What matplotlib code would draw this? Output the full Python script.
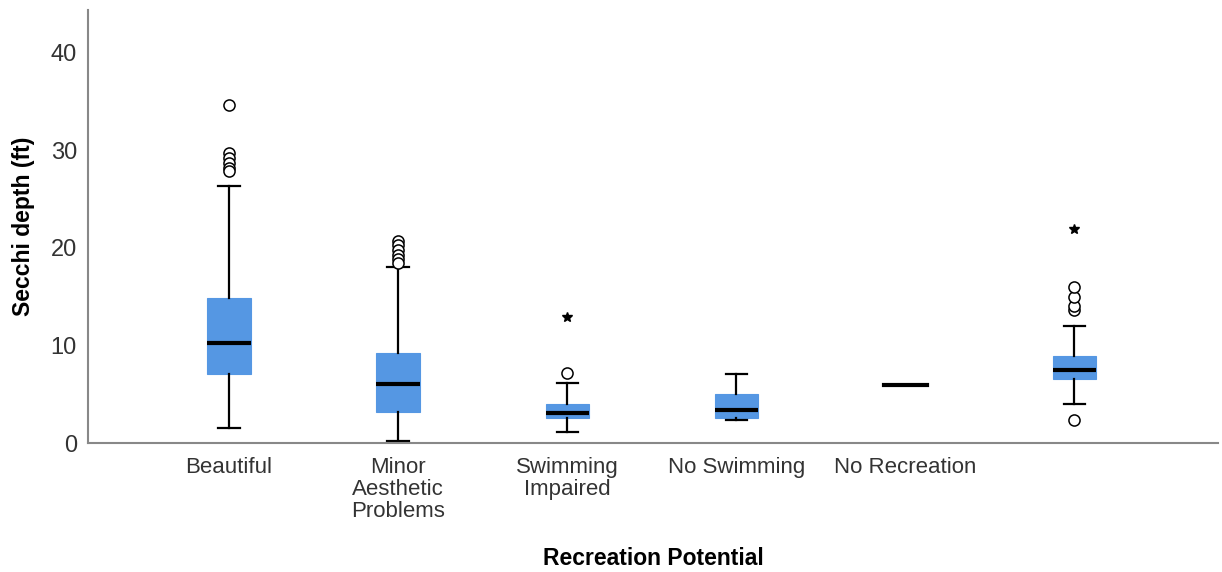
import matplotlib
matplotlib.use('Agg')
import matplotlib.pyplot as plt

plt.rcParams['font.family'] = ['Liberation Sans', 'DejaVu Sans']

categories = ['Beautiful', 'Minor\nAesthetic\nProblems', 'Swimming\nImpaired',
              'No Swimming', 'No Recreation', '']

# five-number summaries (ft)
whislo = [1.5, 0.25, 1.15, 2.35, 5.95, 4.0]
q1 = [7.1, 3.2, 2.55, 2.55, 5.95, 6.6]
med = [10.25, 6.05, 3.1, 3.4, 5.95, 7.5]
q3 = [14.9, 9.2, 3.95, 5.0, 5.95, 8.95]
whishi = [26.4, 18.0, 6.2, 7.05, 5.95, 12.0]

# outliers (circles) and extreme values (stars)
outliers = [
    [34.7, 29.7, 29.2, 28.7, 28.2, 27.9],
    [20.7, 20.3, 19.8, 19.3, 18.9, 18.5],
    [7.15],
    [],
    [],
    [2.35, 13.6, 14.0, 15.0, 16.0],
]
extremes = [[], [], [12.9], [], [], [21.9]]

stats = []
for i in range(len(categories)):
    stats.append({'whislo': whislo[i], 'q1': q1[i], 'med': med[i],
                  'q3': q3[i], 'whishi': whishi[i], 'fliers': outliers[i]})

fig = plt.figure(figsize=(12.22, 5.72), dpi=100)
ax = fig.add_axes([0.072, 0.2255, 0.9247, 0.757])

pos = list(range(len(categories)))
# single-value group has no box and no whisker caps
ax.bxp(stats[:4] + [stats[5]], positions=pos[:4] + [pos[5]], widths=0.255,
       patch_artist=True, showfliers=True,
       boxprops=dict(facecolor='#5597e3', edgecolor='#5597e3', linewidth=0.8),
       medianprops=dict(color='black', linewidth=3),
       whiskerprops=dict(color='black', linewidth=1.6),
       capprops=dict(color='black', linewidth=1.6),
       capwidths=0.125,
       flierprops=dict(marker='o', markerfacecolor='white', markeredgecolor='black',
                       markersize=8, markeredgewidth=1.1))
ax.plot([pos[4] - 0.1275, pos[4] + 0.1275], [med[4], med[4]], color='black', linewidth=3)

for i, ext in enumerate(extremes):
    if ext:
        ax.plot([pos[i]] * len(ext), ext, linestyle='none', marker='*',
                color='black', markersize=7)

ax.set_xlim(-0.834, 5.85)
ax.set_ylim(0, 44.4)
ax.set_yticks([0, 10, 20, 30, 40])
ax.set_xticks(pos)
ax.set_xticklabels(categories, fontsize=16, color='#333333', linespacing=1.08)
ax.tick_params(axis='both', length=0, labelcolor='#333333')
ax.tick_params(axis='x', pad=10)
ax.tick_params(axis='y', pad=8, labelsize=17)

for side in ['top', 'right']:
    ax.spines[side].set_visible(False)
for side in ['left', 'bottom']:
    ax.spines[side].set_color('#888888')
    ax.spines[side].set_linewidth(1.5)

ax.set_ylabel('Secchi depth (ft)', fontsize=16.5, fontweight='bold', labelpad=11)
ax.set_xlabel('Recreation Potential', fontsize=16.5, fontweight='bold', labelpad=18)

plt.savefig('out.png', dpi=100)
